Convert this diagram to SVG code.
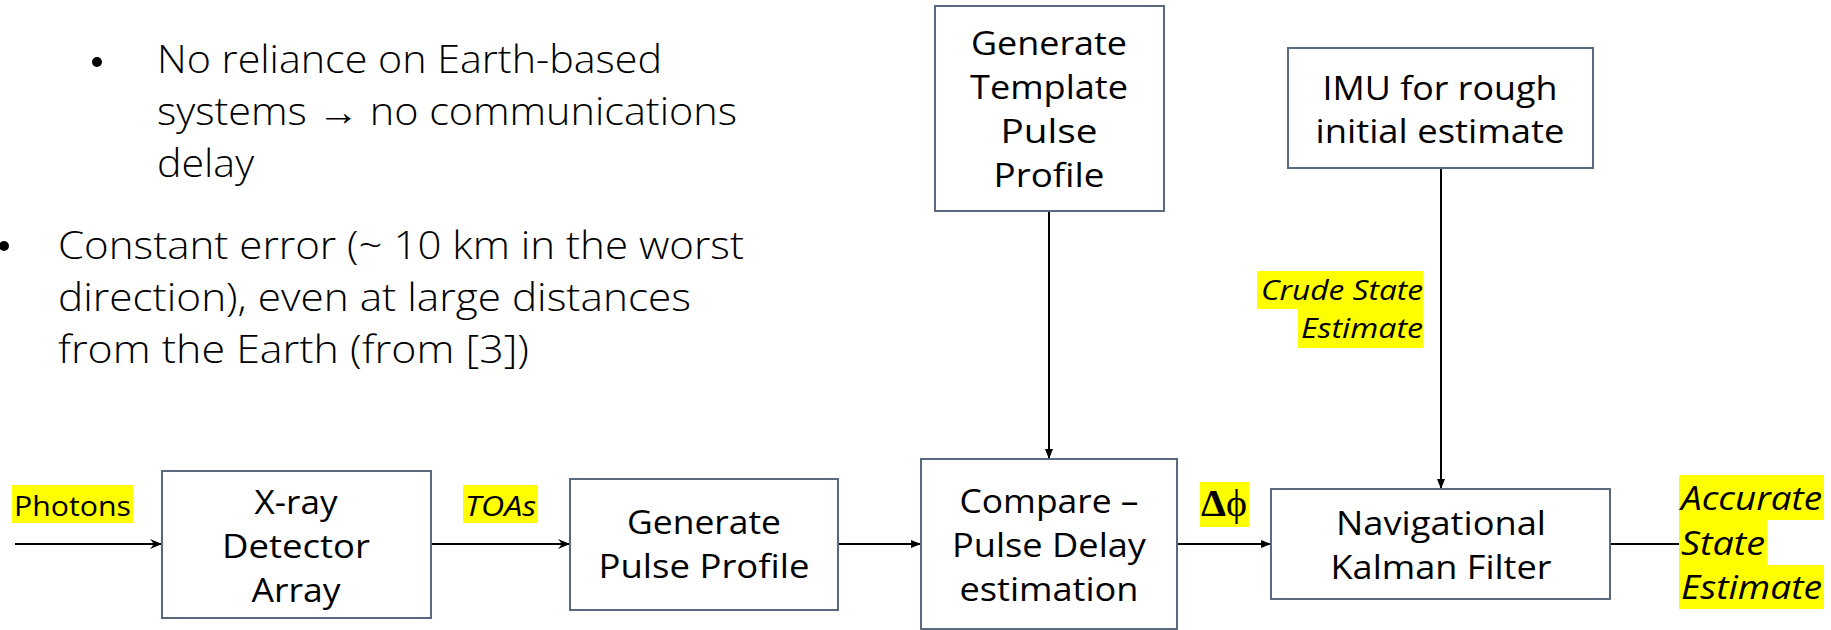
<svg xmlns="http://www.w3.org/2000/svg" width="1831" height="630" viewBox="0 0 1831 630">
<style>
.t{font-family:"Open Sans","Liberation Sans",sans-serif;fill:#000}
.bt{font-size:38px;font-weight:300}
.nt{font-size:32px;font-weight:400;text-anchor:middle}
.lbl{font-size:28px;font-weight:400}
.acc{font-size:33px;font-weight:400}
.it{font-style:italic}
.box{fill:#fff;stroke:#596a80;stroke-width:2}
.hl{fill:#ffff00}
.c{stroke:#000;stroke-width:2;fill:none}
</style>
<defs>
<marker id="tri" viewBox="0 0 10 8" refX="10" refY="4" markerWidth="10" markerHeight="8" markerUnits="userSpaceOnUse" orient="auto">
<path d="M0,0 L10,4 L0,8 z" fill="#000"/>
</marker>
<marker id="stl" viewBox="0 0 12 10" refX="12" refY="5" markerWidth="12" markerHeight="10" markerUnits="userSpaceOnUse" orient="auto">
<path d="M0,0 L12,5 L0,10 L4,5 z" fill="#000"/>
</marker>
</defs>
<rect width="1831" height="630" fill="#fff"/>
<g id="bullets">
<circle cx="97" cy="62" r="5" fill="#000"/>
<text class="t bt" x="157" y="73" textLength="505" lengthAdjust="spacingAndGlyphs">No reliance on Earth-based</text>
<text class="t bt" x="157" y="125" textLength="580" lengthAdjust="spacingAndGlyphs">systems → no communications</text>
<text class="t bt" x="157" y="177" textLength="97" lengthAdjust="spacingAndGlyphs">delay</text>
<circle cx="4" cy="246" r="5" fill="#000"/>
<text class="t bt" x="58" y="259" textLength="686" lengthAdjust="spacingAndGlyphs">Constant error (~ 10 km in the worst</text>
<text class="t bt" x="58" y="311" textLength="633" lengthAdjust="spacingAndGlyphs">direction), even at large distances</text>
<text class="t bt" x="58" y="363" textLength="471" lengthAdjust="spacingAndGlyphs">from the Earth (from [3])</text>
</g>
<g id="connectors">
<line class="c" x1="15" y1="544" x2="162" y2="544" marker-end="url(#stl)"/>
<line class="c" x1="431" y1="544" x2="570" y2="544" marker-end="url(#stl)"/>
<line class="c" x1="838" y1="544" x2="921" y2="544" marker-end="url(#tri)"/>
<line class="c" x1="1177" y1="544" x2="1271" y2="544" marker-end="url(#tri)"/>
<line class="c" x1="1610" y1="544" x2="1679" y2="544"/>
<line class="c" x1="1049" y1="211" x2="1049" y2="459" marker-end="url(#tri)"/>
<line class="c" x1="1441" y1="168" x2="1441" y2="489" marker-end="url(#tri)"/>
</g>
<g id="lbl-photons">
<rect class="hl" x="12" y="485" width="121" height="38"/>
<text class="t lbl" x="14" y="516" textLength="117" lengthAdjust="spacingAndGlyphs">Photons</text>
</g>
<g id="lbl-toas">
<rect class="hl" x="463" y="485" width="75" height="38"/>
<text class="t lbl it" x="465" y="516" textLength="71" lengthAdjust="spacingAndGlyphs">TOAs</text>
</g>
<g id="lbl-dphi">
<rect class="hl" x="1200" y="482" width="49" height="45"/>
<text x="1201" y="516" textLength="46" lengthAdjust="spacingAndGlyphs" style="font-family:'Liberation Serif',serif;font-size:38px"><tspan font-weight="bold">Δ</tspan>ϕ</text>
</g>
<g id="lbl-crude">
<rect class="hl" x="1257" y="271" width="166" height="38"/>
<rect class="hl" x="1298" y="309" width="125" height="39"/>
<text class="t lbl it" x="1423" y="300" text-anchor="end" textLength="162" lengthAdjust="spacingAndGlyphs">Crude State</text>
<text class="t lbl it" x="1423" y="338" text-anchor="end" textLength="122" lengthAdjust="spacingAndGlyphs">Estimate</text>
</g>
<g id="lbl-accurate">
<rect class="hl" x="1679" y="475" width="145" height="45"/>
<rect class="hl" x="1679" y="520" width="88" height="45"/>
<rect class="hl" x="1679" y="565" width="145" height="44"/>
<text class="t it acc" x="1681" y="510" textLength="141" lengthAdjust="spacingAndGlyphs">Accurate</text>
<text class="t it acc" x="1681" y="555" textLength="84" lengthAdjust="spacingAndGlyphs">State</text>
<text class="t it acc" x="1681" y="599" textLength="141" lengthAdjust="spacingAndGlyphs">Estimate</text>
</g>
<g id="n-xray">
<rect class="box" x="162" y="471" width="269" height="147"/>
<text class="t nt" x="296" y="514" textLength="83" lengthAdjust="spacingAndGlyphs">X-ray</text>
<text class="t nt" x="296" y="558" textLength="148" lengthAdjust="spacingAndGlyphs">Detector</text>
<text class="t nt" x="296" y="602" textLength="89" lengthAdjust="spacingAndGlyphs">Array</text>
</g>
<g id="n-genpulse">
<rect class="box" x="570" y="479" width="268" height="131"/>
<text class="t nt" x="704" y="534" textLength="154" lengthAdjust="spacingAndGlyphs">Generate</text>
<text class="t nt" x="704" y="578" textLength="211" lengthAdjust="spacingAndGlyphs">Pulse Profile</text>
</g>
<g id="n-template">
<rect class="box" x="935" y="6" width="229" height="205"/>
<text class="t nt" x="1049" y="55" textLength="156" lengthAdjust="spacingAndGlyphs">Generate</text>
<text class="t nt" x="1049" y="99" textLength="158" lengthAdjust="spacingAndGlyphs">Template</text>
<text class="t nt" x="1049" y="143" textLength="97" lengthAdjust="spacingAndGlyphs">Pulse</text>
<text class="t nt" x="1049" y="187" textLength="111" lengthAdjust="spacingAndGlyphs">Profile</text>
</g>
<g id="n-compare">
<rect class="box" x="921" y="459" width="256" height="170"/>
<text class="t nt" x="1049" y="513" textLength="179" lengthAdjust="spacingAndGlyphs">Compare –</text>
<text class="t nt" x="1049" y="557" textLength="194" lengthAdjust="spacingAndGlyphs">Pulse Delay</text>
<text class="t nt" x="1049" y="601" textLength="179" lengthAdjust="spacingAndGlyphs">estimation</text>
</g>
<g id="n-imu">
<rect class="box" x="1288" y="48" width="305" height="120"/>
<text class="t nt" x="1440" y="100" textLength="235" lengthAdjust="spacingAndGlyphs">IMU for rough</text>
<text class="t nt" x="1440" y="143" textLength="249" lengthAdjust="spacingAndGlyphs">initial estimate</text>
</g>
<g id="n-nav">
<rect class="box" x="1271" y="489" width="339" height="110"/>
<text class="t nt" x="1441" y="535" textLength="210" lengthAdjust="spacingAndGlyphs">Navigational</text>
<text class="t nt" x="1441" y="579" textLength="221" lengthAdjust="spacingAndGlyphs">Kalman Filter</text>
</g>
</svg>
